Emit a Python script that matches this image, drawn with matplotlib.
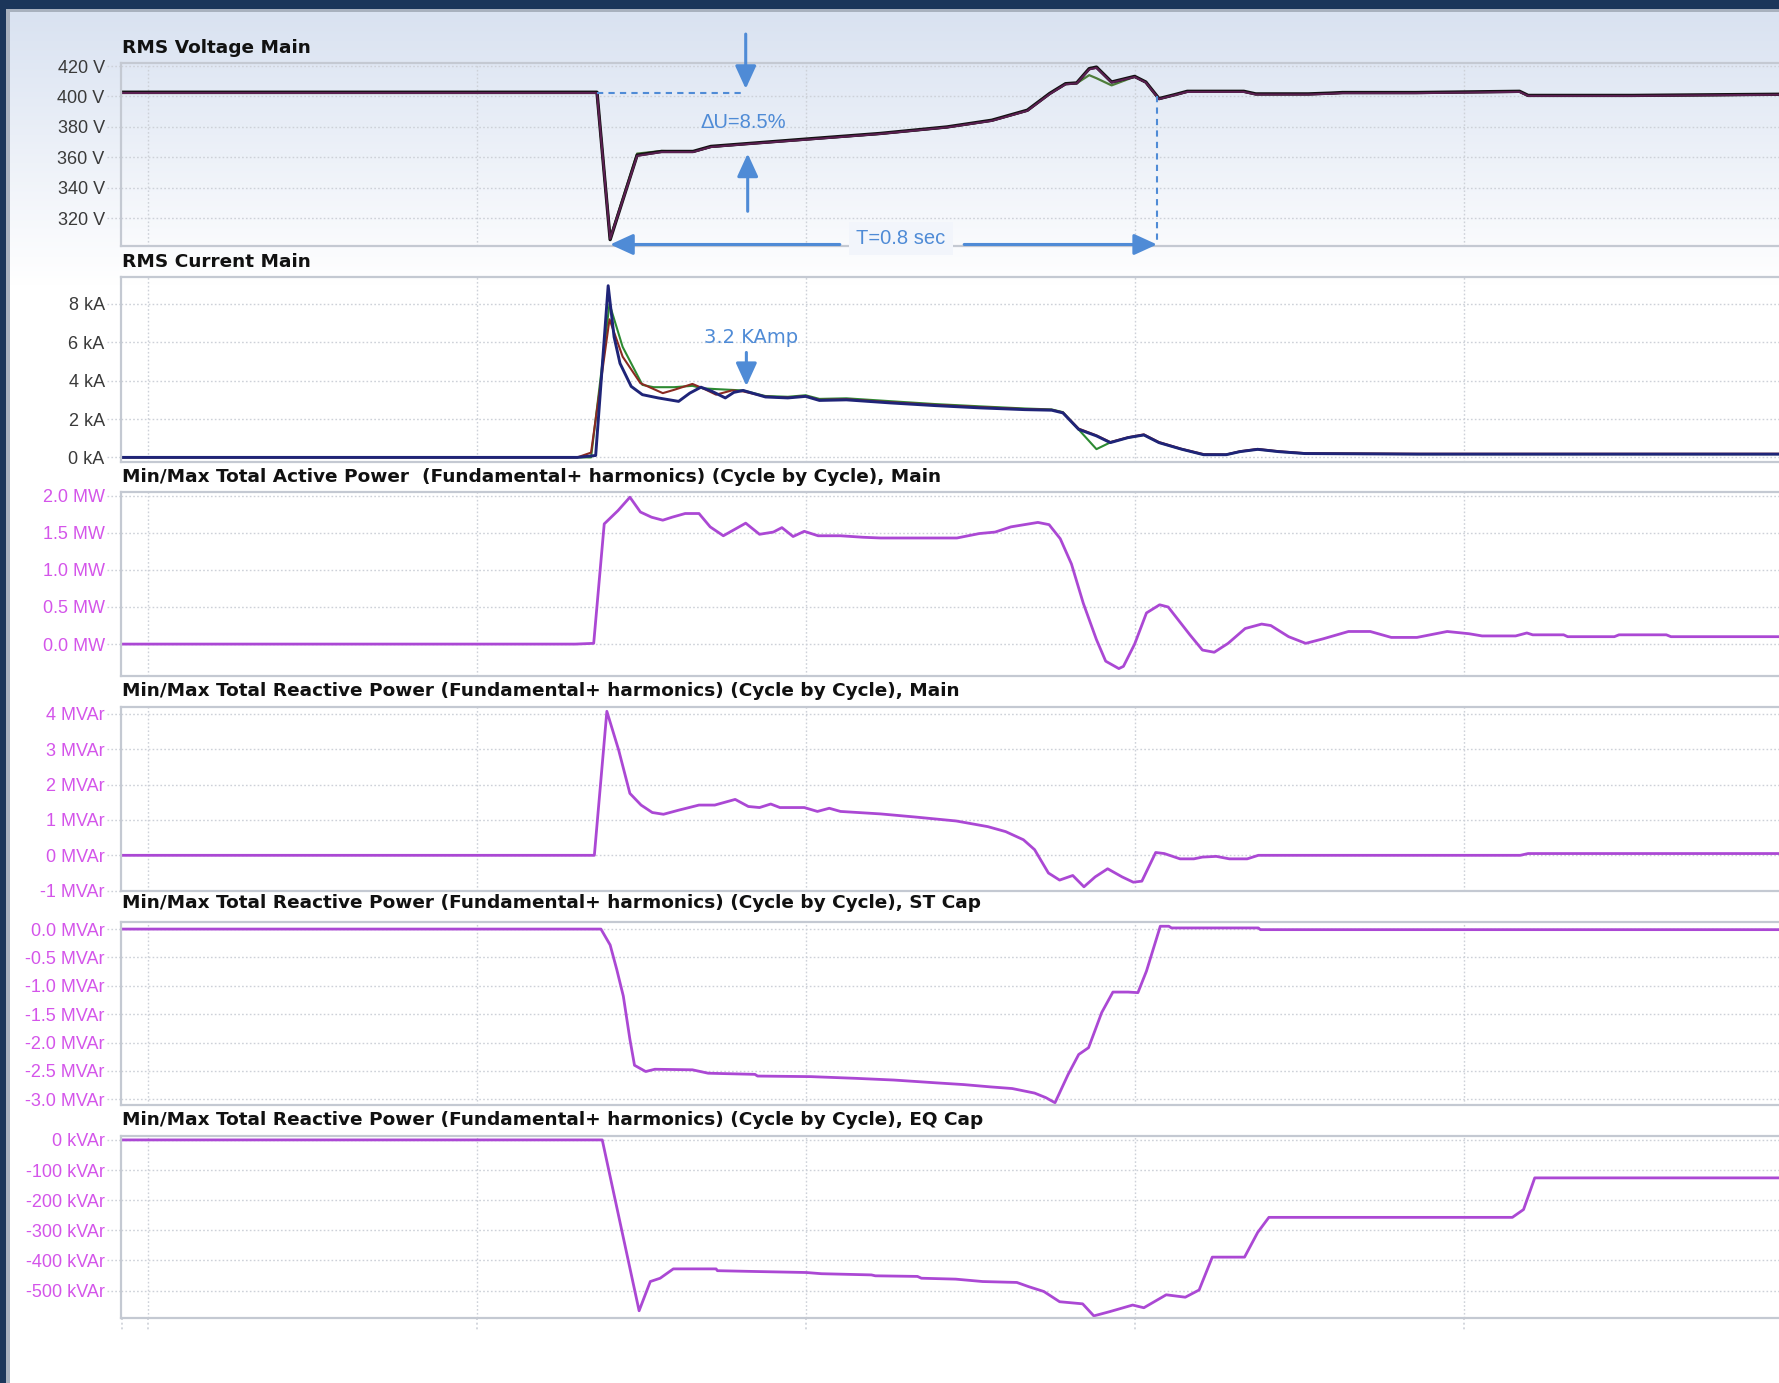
import numpy as np
import matplotlib
matplotlib.use("Agg")
import matplotlib.pyplot as plt
import matplotlib.transforms as mtransforms
from matplotlib import font_manager as fm
from matplotlib.patches import Rectangle

# ---------------- data (time in seconds) ----------------
volt_t = [-0.04, 0.683, 0.703, 0.744, 0.781, 0.829, 0.856, 0.910, 1.012, 1.113, 1.215, 1.283,
          1.337, 1.371, 1.395, 1.412, 1.431, 1.442, 1.465, 1.500, 1.517, 1.537, 1.561, 1.580,
          1.666, 1.684, 1.764, 1.797, 1.816, 1.928, 2.085, 2.098, 2.256, 2.49]
volt_black = [402.8, 402.8, 306, 361.5, 363.9, 363.9, 367.2, 369.0, 372.4, 375.7, 380.0, 384.4,
              391.0, 402.0, 408.4, 408.9, 418.3, 419.3, 409.5, 413.2, 409.5, 398.6, 401.2, 403.4,
              403.4, 401.7, 401.7, 402.2, 402.6, 402.6, 403.4, 400.7, 400.7, 401.5]
volt_purple = [402.3, 402.3, 306.5, 361.0, 363.5, 363.5, 366.8, 368.7, 372.0, 375.4, 379.7, 384.0,
               390.6, 401.6, 408.0, 408.6, 417.8, 418.8, 409.2, 412.8, 409.2, 398.3, 400.9, 403.0,
               403.0, 401.3, 401.3, 401.8, 402.2, 402.2, 403.0, 400.4, 400.4, 401.2]
volt_green = [402.3, 402.3, 307.0, 362.5, 364.2, 363.7, 366.9, 368.9, 372.2, 375.5, 379.8, 384.2,
              390.8, 402.0, 408.2, 408.7, 414.0, 412.0, 407.3, 413.0, 409.3, 398.4, 401.0, 403.2,
              403.2, 401.5, 401.5, 402.0, 402.4, 402.4, 403.2, 400.5, 400.5, 401.3]

cur_t_blue = [-0.04, 0.653, 0.681, 0.700, 0.709, 0.718, 0.735, 0.752, 0.776, 0.807, 0.824, 0.841,
              0.858, 0.878, 0.891, 0.905, 0.939, 0.973, 1.000, 1.021, 1.062, 1.129, 1.197, 1.266,
              1.333, 1.374, 1.391, 1.415, 1.442, 1.463, 1.490, 1.514, 1.537, 1.571, 1.605, 1.639,
              1.660, 1.687, 1.719, 1.759, 1.931, 2.49]
cur_blue = [0, 0, 0.1, 8.95, 6.28, 4.9, 3.7, 3.27, 3.1, 2.92, 3.35, 3.66,
            3.44, 3.1, 3.39, 3.49, 3.15, 3.1, 3.18, 2.97, 3.0, 2.84, 2.7, 2.58,
            2.49, 2.46, 2.32, 1.46, 1.12, 0.77, 1.03, 1.17, 0.77, 0.43, 0.14, 0.14,
            0.30, 0.42, 0.30, 0.20, 0.17, 0.17]
cur_t_red = [-0.04, 0.653, 0.674, 0.702, 0.722, 0.749, 0.783, 0.800, 0.828, 0.844, 0.864, 0.888,
             0.905, 0.939, 0.973, 1.000, 1.021, 1.062, 1.129, 1.197, 1.266, 1.333, 1.374, 1.391,
             1.415, 1.442, 1.463, 1.490, 1.514, 1.537, 1.571, 1.605, 1.639, 1.660, 1.687, 1.719,
             1.759, 1.931, 2.49]
cur_red = [0, 0, 0.25, 7.2, 5.25, 3.87, 3.35, 3.52, 3.83, 3.6, 3.27, 3.49,
           3.44, 3.17, 3.12, 3.2, 3.0, 3.03, 2.88, 2.74, 2.62, 2.52, 2.48, 2.34,
           1.5, 1.15, 0.8, 1.05, 1.2, 0.8, 0.45, 0.17, 0.15, 0.32, 0.44, 0.32,
           0.22, 0.19, 0.19]
cur_t_green = [-0.04, 0.674, 0.702, 0.722, 0.752, 0.769, 0.800, 0.828, 0.844, 0.864, 0.905, 0.939,
               0.973, 1.000, 1.021, 1.062, 1.129, 1.197, 1.266, 1.333, 1.374, 1.391, 1.415, 1.442,
               1.463, 1.490, 1.514, 1.537, 1.571, 1.605, 1.639, 1.660, 1.687, 1.719, 1.759, 1.931, 2.49]
cur_green = [0, 0, 8.0, 5.76, 3.78, 3.66, 3.66, 3.73, 3.6, 3.56, 3.49, 3.2,
             3.16, 3.24, 3.05, 3.08, 2.93, 2.78, 2.66, 2.55, 2.5, 2.36, 1.45, 0.43,
             0.78, 1.03, 1.17, 0.77, 0.43, 0.14, 0.14, 0.30, 0.42, 0.30, 0.20, 0.17, 0.17]

p_t = [-0.04, 0.650, 0.678, 0.694, 0.715, 0.733, 0.749, 0.766, 0.783, 0.797, 0.817, 0.838, 0.855,
       0.875, 0.909, 0.930, 0.951, 0.964, 0.981, 0.998, 1.019, 1.053, 1.087, 1.114, 1.142, 1.230,
       1.264, 1.288, 1.312, 1.353, 1.370, 1.387, 1.404, 1.422, 1.442, 1.456, 1.476, 1.483, 1.500,
       1.518, 1.538, 1.551, 1.584, 1.603, 1.621, 1.642, 1.668, 1.693, 1.707, 1.734, 1.760, 1.786,
       1.825, 1.858, 1.890, 1.929, 1.975, 2.008, 2.028, 2.079, 2.096, 2.105, 2.152, 2.158, 2.229,
       2.236, 2.308, 2.315, 2.49]
p_mw = [0.0, 0.0, 0.01, 1.62, 1.80, 1.98, 1.78, 1.71, 1.67, 1.71, 1.76, 1.76, 1.58,
        1.46, 1.63, 1.48, 1.51, 1.57, 1.45, 1.52, 1.46, 1.46, 1.44, 1.43, 1.43, 1.43,
        1.49, 1.51, 1.58, 1.64, 1.61, 1.42, 1.08, 0.55, 0.06, -0.23, -0.33, -0.30, 0.0,
        0.42, 0.53, 0.50, 0.125, -0.08, -0.11, 0.01, 0.21, 0.27, 0.25, 0.10, 0.01, 0.07,
        0.17, 0.17, 0.09, 0.09, 0.17, 0.14, 0.11, 0.11, 0.15, 0.125, 0.125, 0.10, 0.10,
        0.125, 0.125, 0.10, 0.10]

q_t = [-0.04, 0.679, 0.698, 0.716, 0.733, 0.750, 0.767, 0.784, 0.808, 0.838, 0.862, 0.893, 0.913,
       0.930, 0.947, 0.961, 0.998, 1.018, 1.036, 1.053, 1.114, 1.168, 1.229, 1.277, 1.304, 1.331,
       1.348, 1.369, 1.386, 1.406, 1.423, 1.440, 1.459, 1.481, 1.498, 1.511, 1.532, 1.545, 1.569,
       1.590, 1.603, 1.624, 1.644, 1.671, 1.688, 2.086, 2.098, 2.49]
q_mvar = [0.0, 0.0, 4.07, 2.97, 1.75, 1.42, 1.21, 1.16, 1.28, 1.42, 1.42, 1.58, 1.38,
          1.35, 1.45, 1.35, 1.35, 1.24, 1.33, 1.24, 1.17, 1.08, 0.97, 0.81, 0.67, 0.44,
          0.16, -0.50, -0.70, -0.57, -0.89, -0.61, -0.38, -0.61, -0.76, -0.73, 0.08, 0.05, -0.10,
          -0.10, -0.05, -0.03, -0.10, -0.10, 0.0, 0.0, 0.05, 0.05]

st_t = [-0.04, 0.689, 0.703, 0.713, 0.723, 0.733, 0.740, 0.757, 0.771, 0.828, 0.852, 0.923, 0.927,
        1.008, 1.076, 1.134, 1.199, 1.240, 1.280, 1.314, 1.348, 1.365, 1.379, 1.399, 1.415, 1.430,
        1.450, 1.467, 1.490, 1.505, 1.518, 1.539, 1.552, 1.556, 1.688, 1.691, 2.49]
st_mvar = [0.0, 0.0, -0.28, -0.71, -1.18, -1.94, -2.40, -2.51, -2.47, -2.48, -2.54, -2.56, -2.59,
           -2.60, -2.63, -2.66, -2.71, -2.74, -2.78, -2.81, -2.89, -2.97, -3.06, -2.56, -2.21, -2.09,
           -1.47, -1.11, -1.11, -1.12, -0.74, 0.05, 0.05, 0.02, 0.02, -0.01, -0.01]

eq_t = [-0.04, 0.691, 0.747, 0.764, 0.779, 0.799, 0.864, 0.866, 0.931, 1.001, 1.024, 1.100, 1.106,
        1.170, 1.176, 1.228, 1.269, 1.321, 1.339, 1.362, 1.386, 1.421, 1.438, 1.462, 1.497, 1.514,
        1.548, 1.577, 1.598, 1.618, 1.667, 1.687, 1.704, 2.074, 2.091, 2.108, 2.49]
eq_kvar = [0, 0, -567, -470, -459, -428, -428, -434, -437, -440, -444, -448, -451,
           -453, -459, -462, -470, -473, -487, -503, -537, -544, -584, -570, -548, -557,
           -514, -522, -498, -389, -389, -307, -257, -257, -231, -126, -126]

volt_ticks = [320, 340, 360, 380, 400, 420]
volt_labels = ["320 V", "340 V", "360 V", "380 V", "400 V", "420 V"]
cur_ticks = [0, 2, 4, 6, 8]
cur_labels = ["0 kA", "2 kA", "4 kA", "6 kA", "8 kA"]
p_ticks = [0.0, 0.5, 1.0, 1.5, 2.0]
p_labels = ["0.0 MW", "0.5 MW", "1.0 MW", "1.5 MW", "2.0 MW"]
q_ticks = [-1, 0, 1, 2, 3, 4]
q_labels = ["-1 MVAr", "0 MVAr", "1 MVAr", "2 MVAr", "3 MVAr", "4 MVAr"]
st_ticks = [-3.0, -2.5, -2.0, -1.5, -1.0, -0.5, 0.0]
st_labels = ["-3.0 MVAr", "-2.5 MVAr", "-2.0 MVAr", "-1.5 MVAr", "-1.0 MVAr", "-0.5 MVAr", "0.0 MVAr"]
eq_ticks = [-500, -400, -300, -200, -100, 0]
eq_labels = ["-500 kVAr", "-400 kVAr", "-300 kVAr", "-200 kVAr", "-100 kVAr", "0 kVAr"]
time_grid = [0.0, 0.5, 1.0, 1.5, 2.0]

titles = ["RMS Voltage Main",
          "RMS Current Main",
          "Min/Max Total Active Power  (Fundamental+ harmonics) (Cycle by Cycle), Main",
          "Min/Max Total Reactive Power (Fundamental+ harmonics) (Cycle by Cycle), Main",
          "Min/Max Total Reactive Power (Fundamental+ harmonics) (Cycle by Cycle), ST Cap",
          "Min/Max Total Reactive Power (Fundamental+ harmonics) (Cycle by Cycle), EQ Cap"]

# ---------------- style ----------------
names = {f.name for f in fm.fontManager.ttflist}
if "Liberation Sans Narrow" in names:
    TFONT, TSIZE = "Liberation Sans Narrow", 15.5
else:
    TFONT, TSIZE = "Liberation Sans", 13
TITLE_FONT = "DejaVu Sans"
GRID = "#cdd1d8"
SPINE = "#c4c9d2"
PURPLE = "#ab48d4"
MAGENTA = "#d455ea"
DARK = "#3a3a3a"
BLUE = "#4f8bd6"

W, H = 1779, 1383
fig = plt.figure(figsize=(W / 100, H / 100), dpi=100)

# background with gradient and window frame
bg = fig.add_axes([0, 0, 1, 1], zorder=-10)
grad = np.ones((H, 1, 3))
top_c = np.array([217, 226, 241]) / 255.0
bot_c = np.array([255, 255, 255]) / 255.0
y0, y1 = 12, 285
for yy in range(y0, y1):
    f = (yy - y0) / (y1 - y0)
    grad[yy, 0, :] = top_c * (1 - f) + bot_c * f
bg.imshow(grad, aspect="auto", extent=[0, W, H, 0], interpolation="bilinear")
bg.add_patch(Rectangle((0, 0), W, 8.5, color="#1b365a", lw=0))
bg.add_patch(Rectangle((0, 8.5), W, 3.5, color="#a8b1be", lw=0))
bg.add_patch(Rectangle((0, 0), 5.5, H, color="#1b365a", lw=0))
bg.add_patch(Rectangle((5.5, 12), 4.5, H, color="#a8b1be", lw=0))
bg.set_xlim(0, W)
bg.set_ylim(H, 0)
bg.axis("off")

LEFT = 121.4
RIGHT = 1784.0
boxes = [(63.3, 246.0), (276.7, 462.0), (491.7, 676.0), (706.7, 890.7), (921.7, 1105.0), (1136.0, 1318.3)]
title_y = [48.3, 261.7, 476.7, 690.7, 903.3, 1120.0]
ylims = [(301.8, 421.8), (-0.24, 9.42), (-0.43, 2.054), (-0.98, 4.2), (-3.1, 0.13), (-592, 13)]
XLIM = (-0.0397, (RIGHT - 121.4) / 1.1346 / 580.0 + (-0.0397))

axes = []
for i, (top, bot) in enumerate(boxes):
    ax = fig.add_axes([LEFT / W, 1 - bot / H, (RIGHT - LEFT) / W, (bot - top) / H])
    ax.patch.set_alpha(0.0)
    ax.set_xlim(*XLIM)
    ax.set_ylim(*ylims[i])
    for s in ax.spines.values():
        s.set_color(SPINE)
        s.set_linewidth(1.6)
    ax.set_xticks(time_grid)
    ax.set_xticklabels([])
    ax.tick_params(axis="x", length=0)
    ax.grid(True, color=GRID, ls=(0, (1.2, 1.6)), lw=1.0)
    axes.append(ax)
    fig.text(122.5 / W, 1 - title_y[i] / H, titles[i], fontsize=13.3, fontweight="bold",
             family=TITLE_FONT, va="center", ha="left", color="#111111")

tick_sets = [(volt_ticks, volt_labels, DARK), (cur_ticks, cur_labels, DARK),
             (p_ticks, p_labels, MAGENTA), (q_ticks, q_labels, MAGENTA),
             (st_ticks, st_labels, MAGENTA), (eq_ticks, eq_labels, MAGENTA)]
for ax, (tk, lb, col) in zip(axes, tick_sets):
    ax.set_yticks(tk)
    ax.set_yticklabels(lb, family=TFONT, fontsize=TSIZE, color=col)
    ax.tick_params(axis="y", length=0, pad=12)
    tr = mtransforms.blended_transform_factory(ax.transAxes, ax.transData)
    for v in tk:
        ax.plot([-0.0085, 0], [v, v], transform=tr, color=GRID, ls=(0, (1.2, 1.6)), lw=1.0, clip_on=False)

# bottom x tick stubs
axb = axes[-1]
trb = mtransforms.blended_transform_factory(axb.transData, axb.transAxes)
for tv in [XLIM[0] + 0.001] + time_grid:
    axb.plot([tv, tv], [0, -0.07], transform=trb, color=GRID, ls=(0, (1.2, 1.6)), lw=1.2, clip_on=False)

# ---------------- traces ----------------
axV, axI, axP, axQ, axS, axE = axes
axV.plot(volt_t, volt_green, color="#4e7d3a", lw=1.6)
axV.plot(volt_t, volt_black, color="#111111", lw=2.4)
axV.plot(volt_t, volt_purple, color="#5a1f50", lw=1.5)

axI.plot(cur_t_green, cur_green, color="#2c8a32", lw=1.5)
axI.plot(cur_t_red, cur_red, color="#8a2a22", lw=1.5)
axI.plot(cur_t_blue, cur_blue, color="#1f2478", lw=2.1)

axP.plot(p_t, p_mw, color=PURPLE, lw=2.0)
axQ.plot(q_t, q_mvar, color=PURPLE, lw=2.0)
axS.plot(st_t, st_mvar, color=PURPLE, lw=2.0)
axE.plot(eq_t, eq_kvar, color=PURPLE, lw=2.0)

# ---------------- annotations ----------------
ap = dict(arrowstyle="-|>,head_length=0.7,head_width=0.32", color=BLUE, lw=2.2,
          shrinkA=0, shrinkB=0, mutation_scale=20)
axV.plot([0.683, 0.905], [402.2, 402.2], color=BLUE, lw=1.5, ls=(0, (3, 2.5)))
axV.annotate("", xy=(0.909, 405.0), xytext=(0.909, 441.0), arrowprops=ap, annotation_clip=False)
axV.annotate("", xy=(0.912, 362.5), xytext=(0.912, 324.6), arrowprops=ap, annotation_clip=False)
axV.text(0.905, 382.8, "ΔU=8.5%", color=BLUE, fontsize=14.5, family=TFONT, ha="center", va="center")
axV.plot([1.534, 1.534], [400.0, 303.0], color=BLUE, lw=1.5, ls=(0, (3, 2.5)), clip_on=False)
axV.annotate("", xy=(0.703, 302.8), xytext=(1.052, 302.8), arrowprops=ap, annotation_clip=False)
axV.annotate("", xy=(1.534, 302.8), xytext=(1.241, 302.8), arrowprops=ap, annotation_clip=False)
axV.text(1.145, 306.8, "T=0.8 sec", color=BLUE, fontsize=14.5, family=TFONT, ha="center", va="center",
         bbox=dict(boxstyle="square,pad=0.35", facecolor="#f2f5fb", edgecolor="none"), clip_on=False)

axI.annotate("", xy=(0.910, 3.72), xytext=(0.910, 5.47), arrowprops=ap, annotation_clip=False)
axI.text(0.917, 6.24, "3.2 KAmp", color=BLUE, fontsize=14, family="DejaVu Sans", ha="center", va="center")

fig.savefig("out.png", dpi=100)
